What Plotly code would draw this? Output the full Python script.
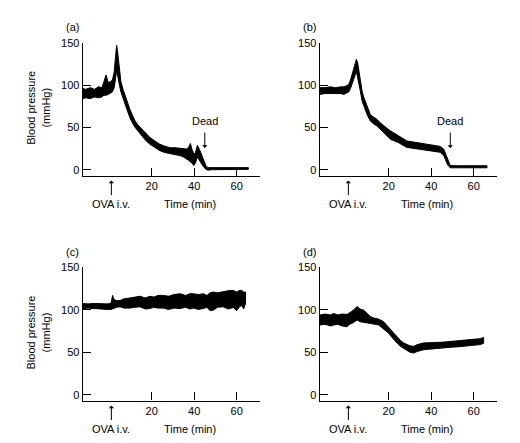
import plotly.graph_objects as go

# ---------------- data ----------------
# Each trace is drawn as a band between its upper and lower envelope (mmHg) vs time (min)
t_a = [-12.5, -11, -9, -7, -5, -3.5, -2.5, -1.5, -0.5, 0.5, 1.5, 2.3, 3.0, 3.5, 4.0, 4.8, 5.5, 6.5,
       7.5, 8.5, 9.8, 11, 12.2, 13.5, 15.3, 17, 19.2, 21.5, 23.9, 26, 28.6, 31, 33.3, 35, 36.5, 37.5,
       38.2, 39, 39.8, 40.6, 41.5, 42.5, 43.5, 44.5, 45.5, 46.5, 48, 52, 56, 60, 64, 65.5]
up_a = [96, 95, 97, 95, 98, 97, 104, 112, 103, 104, 106, 115, 135, 147, 138, 120, 104, 95,
        87, 80, 71, 64, 57.5, 53, 48, 43, 38, 34, 30, 28, 26, 26, 25.6, 25, 24.5, 27,
        31, 24, 18.7, 20, 29, 24, 17, 11, 5, 2.5, 2.5, 2.3, 2.3, 2.5, 2.5, 2.5]
lo_a = [84, 85, 84, 86, 85, 86, 88, 88, 89, 90, 92, 97, 108, 118, 112, 100, 92, 84,
        77, 70, 61, 55, 50, 45, 40, 35, 30, 26, 22.5, 20.5, 18.7, 18, 16.7, 15, 13, 11,
        9, 8, 5, 8, 15, 12, 7, 3, 0.5, -0.5, 0, 0.3, 0.3, 0.5, 0.5, 0.5]

t_b = [-12.5, -10, -7.5, -5, -2.5, -1.2, 0, 1.2, 2.0, 2.7, 3.5, 4.2, 4.8, 5.4, 5.9, 6.7, 7.5, 8.2,
       9, 10, 11.4, 13, 14.5, 16, 17.6, 19.2, 20.8, 22.7, 24.7, 26.6, 28.6, 31, 33.3, 36.5, 39.6,
       42, 44.3, 45.9, 46.7, 47.5, 48.3, 49, 52, 56, 60, 64, 66.3]
up_b = [97, 97, 98, 97, 98, 98, 99, 101, 106, 112, 120, 127, 130.6, 126, 118, 104, 92.5, 86,
        81, 73, 65, 62, 59.5, 55.5, 51.7, 49, 46, 43, 40, 37, 34, 33, 32, 31, 30,
        29, 27.6, 24.5, 19, 12.8, 8, 5, 4.7, 4.7, 4.7, 4.7, 4.7]
lo_b = [89, 90, 90.5, 90, 90, 89, 90, 92, 96, 100, 106, 112, 116, 111, 104, 92, 81, 76,
        71, 64, 57.5, 54, 51.7, 48, 44, 40, 36, 34, 32, 29, 26.4, 25.5, 25, 24, 22.5,
        21.5, 20.6, 16.7, 12, 7, 4, 2.3, 2.3, 2.3, 2.3, 2.3, 2.3]

t_c = [-12.5, -10, -7, -4, -1, 0.8, 1.2, 1.6, 2.3, 3.5, 5.1, 7, 9.8, 12, 14.5, 17, 19.2, 21, 23,
       25.5, 28, 30.5, 33.3, 36, 38, 39.6, 42, 44.3, 46, 47.5, 49, 51, 53.7, 56, 58.4, 60, 61.5,
       62.4, 63.3, 64.2]
up_c = [107.4, 107, 107.5, 107, 107, 107.5, 112, 117, 112, 111, 111, 113, 114, 115, 116, 114, 116,
        115, 117, 117, 116, 118, 119, 117, 119, 119, 118, 119, 117, 120, 121, 120, 121.7, 122.5,
        122.9, 121, 123, 122.9, 121, 121]
lo_c = [101.5, 102, 101.5, 101, 100.5, 100.4, 101, 101.5, 102, 103, 103.5, 102, 102, 103, 103.5,
        101, 101.5, 103, 102, 102, 100.5, 102, 101.5, 103, 101, 102, 100.5, 101.5, 103, 99, 99.6,
        103, 103.5, 101, 102.7, 99, 104, 105, 101, 107.4]

t_d = [-12.5, -10, -7.5, -5.9, -4, -2, 0.4, 1.5, 2.7, 4, 5.1, 6.5, 8.2, 9.8, 11.4, 13.5, 15.3, 17.6,
       18.8, 20, 21.2, 22.4, 24, 25.5, 27, 28.6, 30, 31.8, 33.5, 36.5, 40, 42.7, 46, 49, 53, 56.9,
       60, 63.1, 64.7]
up_d = [93.8, 95, 94, 95.7, 94, 95, 94.6, 96, 98.4, 101, 104, 101, 99.6, 96, 91.9, 90, 89, 86,
        83, 80, 76, 72.5, 68, 64, 61, 59, 57.5, 57, 59, 61, 61, 61.6, 62, 62.8, 63.5, 64.7,
        65, 66, 67.4]
lo_d = [82, 83, 81, 82, 83, 81, 80, 83, 84, 86, 88, 86, 86, 85, 84, 83, 82, 78,
        75, 72.5, 68.5, 64.7, 60.5, 57, 54, 52, 50, 49, 51, 53, 54, 54, 55, 55.8, 56.5, 57,
        58, 59, 60.5]

panel_labels = ["(a)", "(b)", "(c)", "(d)"]
x_ticks = [20, 40, 60]
y_ticks = [0, 50, 100, 150]
y_title = "Blood pressure<br>(mmHg)"
x_title = "Time (min)"
injection_label = "OVA i.v."
death_label = "Dead"
injection_time = 1
death_time_a = 45
death_time_b = 49

# ---------------- figure ----------------
W, H = 520, 443
FONT = "Arial, Liberation Sans, sans-serif"
TXT = dict(family=FONT, size=11, color="black")


def px(x):
    return x / W


def py(y):
    return 1 - y / H


fig = go.Figure()
series = [(t_a, up_a, lo_a), (t_b, up_b, lo_b), (t_c, up_c, lo_c), (t_d, up_d, lo_d)]
for i, (t, up, lo) in enumerate(series):
    n = "" if i == 0 else str(i + 1)
    fig.add_trace(go.Scatter(
        x=list(t) + list(t)[::-1], y=list(up) + list(lo)[::-1],
        fill="toself", fillcolor="black", mode="lines",
        line=dict(color="black", width=1), xaxis="x" + n, yaxis="y" + n,
        showlegend=False, hoverinfo="skip"))

x_doms = [(82.7, 260), (319.7, 497)]
y_doms = [(172, 37.3), (400, 265)]

axis_common = dict(showline=True, linecolor="black", linewidth=1.2, ticks="inside",
                   tickcolor="black", tickwidth=1.2, ticklen=8, showgrid=False,
                   zeroline=False, tickfont=TXT)

layout = dict(width=W, height=H, autosize=False, margin=dict(l=0, r=0, t=0, b=0),
              paper_bgcolor="white", plot_bgcolor="white", showlegend=False)


def note(text, x, y, xref="paper", **kw):
    d = dict(text=text, xref=xref, yref="paper", x=x, y=y, showarrow=False,
             xanchor="center", yanchor="middle", font=TXT)
    d.update(kw)
    return d


annotations = []
for i in range(4):
    n = "" if i == 0 else str(i + 1)
    col, row = i % 2, i // 2
    xd = x_doms[col]
    yd = y_doms[row]
    layout["xaxis" + n] = dict(axis_common, domain=[px(xd[0]), px(xd[1])], range=[-12.5, 71],
                               tickvals=x_ticks, anchor="y" + n)
    layout["yaxis" + n] = dict(axis_common, domain=[py(yd[0]), py(yd[1])], range=[-7, 150],
                               tickvals=y_ticks, anchor="x" + n)
    # panel label
    annotations.append(note(panel_labels[i], px(xd[0] - 10), py(yd[1] - 16)))
    # injection arrow + label
    bottom = yd[0]
    annotations.append(dict(text="", xref="x" + n, yref="paper", x=injection_time,
                            y=py(bottom + 5), ax=0, ay=16, showarrow=True, arrowhead=1,
                            arrowsize=0.9, arrowwidth=1, arrowcolor="black"))
    annotations.append(note(injection_label, injection_time, py(bottom + 29), xref="x" + n))
    annotations.append(note(x_title, 38, py(bottom + 29), xref="x" + n))
    if col == 0:
        annotations.append(note(y_title, px(38), py((yd[0] + yd[1]) / 2 - 1.5),
                                textangle=-90))

for n, dt in (("", death_time_a), ("2", death_time_b)):
    annotations.append(dict(text="", xref="x" + n, yref="paper", x=dt, y=py(144),
                            ax=0, ay=-17, showarrow=True, arrowhead=1, arrowsize=0.9,
                            arrowwidth=1, arrowcolor="black"))
    annotations.append(note(death_label, dt, py(117), xref="x" + n))

layout["annotations"] = annotations
fig.update_layout(**layout)
fig.write_html("out.html", config={"displayModeBar": False},
               post_script="document.body.style.margin='0';document.body.style.padding='0';")
